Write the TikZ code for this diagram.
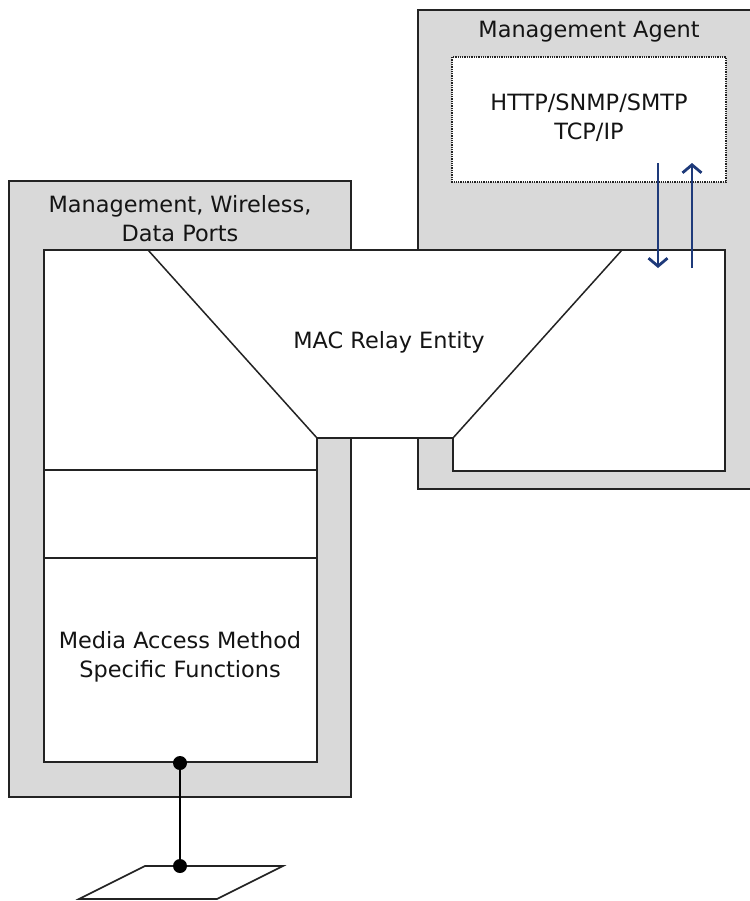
\documentclass[tikz,border=0pt]{standalone}
\usepackage{fontspec}
\setmainfont{DejaVu Sans}
\usetikzlibrary{arrows.meta}
\definecolor{boxgray}{RGB}{217,217,217}
\definecolor{navy}{RGB}{30,58,122}
\definecolor{outline}{RGB}{35,35,35}
\begin{document}
\begin{tikzpicture}[x=1bp,y=-1bp,
  every node/.style={font=\fontsize{22.5}{29}\selectfont, text=black!92, inner sep=0pt},
  graybox/.style={fill=boxgray, draw=outline, line width=1.7bp},
  whitearea/.style={fill=white, draw=outline, line width=1.7bp},
  edge/.style={draw=outline, line width=1.5bp},
  dotbox/.style={fill=white, draw=outline, line width=1.2bp, dash pattern=on 1.3bp off 1bp},
  flow/.style={draw=navy, line width=2.8bp, -{Straight Barb[length=8bp,width=19bp,line width=2.8bp]}},
  junction/.style={circle, fill=black, minimum size=14bp, inner sep=0pt},
  medium/.style={draw=outline, line width=1.6bp, fill=white}
]
\useasboundingbox (0,0) rectangle (750,901);

% gray housing boxes
\path[graybox] (9,181) rectangle (351,797);
\path[graybox] (418,10) rectangle (760,489);

% white bridge area
\path[whitearea] (44,250) -- (725,250) -- (725,471) -- (453,471) -- (453,438)
  -- (317,438) -- (317,762) -- (44,762) -- cycle;

% relay funnel and layer separators
\draw[edge] (148,250) -- (317,438);
\draw[edge] (622,250) -- (453,438);
\draw[edge] (44,470) -- (317,470);
\draw[edge] (44,558) -- (317,558);

% management protocol box
\path[dotbox] (452,57) rectangle (726,182);

% labels
\node (agent) at (589,32) {Management Agent};
\node[align=center] (proto) at (589,118) {HTTP/SNMP/SMTP\\TCP/IP};
\node[align=center] (ports) at (180,219) {Management, Wireless,\\Data Ports};
\node (relay) at (389,342) {MAC Relay Entity};
\node[align=center] (media) at (180,657) {Media Access Method\\Specific Functions};

% management flows
\coordinate (downA) at (658,163);
\coordinate (downB) at (658,268);
\coordinate (upA) at (692,268);
\coordinate (upB) at (692,163);
\draw[flow] (downA) -- (downB);
\draw[flow] (upA) -- (upB);

% attachment to the medium
\path[medium] (145,866) -- (283,866) -- (217,899) -- (79,899) -- cycle;
\node[junction] (j1) at (180,763) {};
\node[junction] (j2) at (180,866) {};
\draw[draw=black, line width=2.3bp] (j1.center) -- (j2.center);
\end{tikzpicture}
\end{document}
